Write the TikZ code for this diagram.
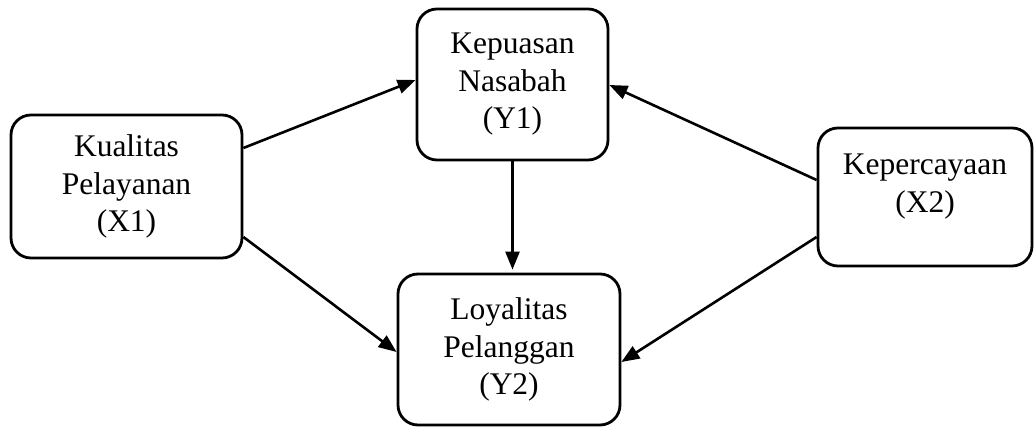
\documentclass[tikz,border=0pt]{standalone}
\usepackage{fontspec}
\setmainfont{Liberation Serif}
\usetikzlibrary{arrows.meta,calc}
\begin{document}
\begin{tikzpicture}[x=1pt,y=1pt,
  varbox/.style={draw, line width=2.8pt, rounded corners=20pt, align=center,
    inner sep=0pt, font=\fontsize{31.5}{37.5}\selectfont},
  lbl/.style={align=center, inner sep=0pt, font=\fontsize{31.5}{38}\selectfont},
  link/.style={line width=2.6pt, -{Triangle[length=18pt,width=14pt]}}]
\useasboundingbox (0,0) rectangle (1034,427);
\node[varbox, minimum width=231pt, minimum height=143pt] (x1) at (126.5,240.5) {Kualitas\\Pelayanan\\(X1)};
\node[varbox, minimum width=191pt, minimum height=151pt] (y1) at (512.5,342.5) {Kepuasan\\Nasabah\\(Y1)};
\node[varbox, minimum width=214pt, minimum height=138pt] (x2) at (925,230) {};
\node[lbl] (x2t) at ($(x2.center)+(0,10)$) {Kepercayaan\\(X2)};
\node[varbox, minimum width=222pt, minimum height=151pt] (y2) at (509,77.5) {Loyalitas\\Pelanggan\\(Y2)};
\draw[link] ($(x1.east)+(0,38.5)$) -- ($(y1.west)+(0,4.5)$);
\draw[link] ($(x1.east)+(0,-50.5)$) -- ($(y2.west)+(0,-2.5)$);
\draw[link] (y1.south) -- ($(y1.south |- y2.north)+(0,3)$);
\draw[link] ($(x2.west)+(0,17)$) -- ($(y1.east)+(0,-0.5)$);
\draw[link] ($(x2.west)+(0,-40)$) -- ($(y2.east)+(0,-12.5)$);
\end{tikzpicture}
\end{document}
